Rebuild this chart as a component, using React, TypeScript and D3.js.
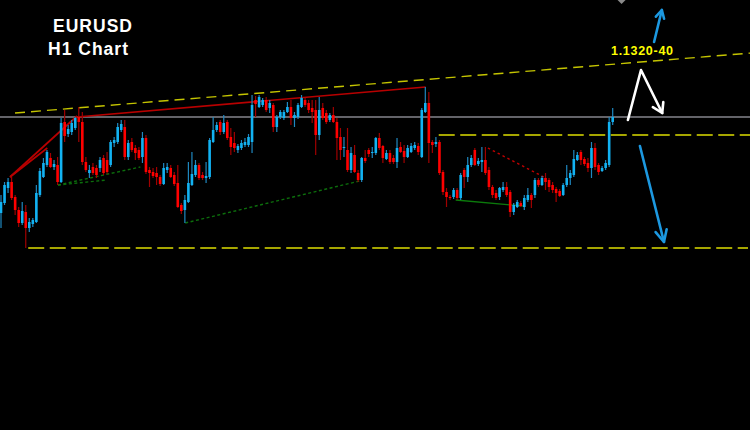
import React, { useEffect } from "react";
import * as d3 from "d3";

const W = 750;
const H = 430;

// Hourly EURUSD bars: [open, high, low, close]
const bars: [number, number, number, number][] = [
  [1.1187, 1.1205, 1.1172, 1.1198], [1.1197, 1.1218, 1.1195, 1.1215], [1.1212, 1.1222, 1.1207, 1.1218], [1.1218, 1.1223, 1.12, 1.1202],
  [1.1203, 1.1205, 1.1185, 1.119], [1.119, 1.1193, 1.1173, 1.1177], [1.1177, 1.1198, 1.1175, 1.1189], [1.1188, 1.1195, 1.1152, 1.1172],
  [1.1172, 1.1182, 1.1168, 1.1178], [1.1176, 1.1182, 1.1173, 1.118], [1.1178, 1.1215, 1.1177, 1.1207], [1.1205, 1.1232, 1.1203, 1.1229],
  [1.1223, 1.1242, 1.1222, 1.1237], [1.1235, 1.125, 1.1233, 1.1248], [1.1242, 1.1247, 1.1232, 1.1233], [1.1233, 1.124, 1.123, 1.1236],
  [1.1235, 1.1243, 1.1215, 1.1218], [1.1218, 1.1282, 1.1217, 1.1277], [1.1278, 1.129, 1.1258, 1.1264], [1.1266, 1.1275, 1.1263, 1.1271],
  [1.1268, 1.128, 1.1265, 1.1277], [1.1272, 1.1283, 1.127, 1.1282], [1.1283, 1.1293, 1.1258, 1.1278], [1.1278, 1.1288, 1.1235, 1.1238],
  [1.1238, 1.1243, 1.1228, 1.123], [1.1227, 1.1235, 1.1222, 1.123], [1.1233, 1.1237, 1.1225, 1.1227], [1.1232, 1.1235, 1.1222, 1.1225],
  [1.1232, 1.1243, 1.1228, 1.124], [1.1242, 1.1245, 1.1225, 1.1227], [1.124, 1.1248, 1.1226, 1.1228], [1.1235, 1.126, 1.1233, 1.1258],
  [1.1257, 1.1263, 1.1253, 1.126], [1.1258, 1.1277, 1.1256, 1.1273], [1.127, 1.128, 1.1268, 1.1276], [1.1273, 1.128, 1.124, 1.1243],
  [1.1243, 1.126, 1.124, 1.1257], [1.1258, 1.1262, 1.1248, 1.125], [1.1252, 1.1255, 1.124, 1.1247], [1.125, 1.1253, 1.124, 1.1242],
  [1.1243, 1.1268, 1.1237, 1.1262], [1.1262, 1.1265, 1.1226, 1.1228], [1.123, 1.1233, 1.1213, 1.1227], [1.1228, 1.1232, 1.1222, 1.1224],
  [1.1227, 1.1233, 1.1215, 1.1223], [1.1223, 1.1225, 1.1214, 1.1216], [1.1216, 1.1237, 1.1215, 1.1232], [1.123, 1.1237, 1.1227, 1.1233],
  [1.1232, 1.1235, 1.1222, 1.1223], [1.1225, 1.1228, 1.1214, 1.1216], [1.1217, 1.1235, 1.1192, 1.1193], [1.1195, 1.1197, 1.1186, 1.1189],
  [1.119, 1.1205, 1.1177, 1.12], [1.1198, 1.1238, 1.1197, 1.1217], [1.1215, 1.1248, 1.1214, 1.1226], [1.1225, 1.124, 1.1223, 1.1235],
  [1.1235, 1.1237, 1.122, 1.1222], [1.1225, 1.1228, 1.122, 1.1222], [1.1222, 1.1238, 1.1217, 1.1224], [1.1223, 1.1262, 1.1221, 1.126],
  [1.1258, 1.1283, 1.1257, 1.127], [1.127, 1.1278, 1.1268, 1.1275], [1.1278, 1.128, 1.1265, 1.1268], [1.1268, 1.1285, 1.1266, 1.1277],
  [1.1278, 1.128, 1.126, 1.1262], [1.1263, 1.1272, 1.1245, 1.1253], [1.1257, 1.1268, 1.1248, 1.1252], [1.125, 1.1256, 1.1247, 1.1254],
  [1.1252, 1.126, 1.125, 1.1257], [1.1255, 1.1262, 1.1253, 1.1258], [1.1255, 1.1266, 1.1253, 1.1263], [1.1258, 1.1305, 1.1247, 1.1295],
  [1.13, 1.1304, 1.1283, 1.1296], [1.1293, 1.1305, 1.1292, 1.1303], [1.1295, 1.1302, 1.1293, 1.13], [1.13, 1.1303, 1.1288, 1.129],
  [1.1292, 1.13, 1.1287, 1.1297], [1.1295, 1.1297, 1.1268, 1.1273], [1.1273, 1.1285, 1.1268, 1.1283], [1.1283, 1.129, 1.1281, 1.1288],
  [1.1282, 1.129, 1.128, 1.1288], [1.1288, 1.1298, 1.1287, 1.1293], [1.1293, 1.13, 1.1275, 1.1282], [1.1282, 1.1288, 1.1273, 1.1285],
  [1.1283, 1.1297, 1.1281, 1.1295], [1.1293, 1.1305, 1.1292, 1.1302], [1.13, 1.1302, 1.1293, 1.1295], [1.1297, 1.13, 1.1287, 1.129],
  [1.1292, 1.13, 1.1277, 1.1288], [1.129, 1.13, 1.1245, 1.1265], [1.1265, 1.1303, 1.126, 1.129], [1.1292, 1.1297, 1.128, 1.1282],
  [1.1287, 1.129, 1.1276, 1.1278], [1.128, 1.1287, 1.1278, 1.1285], [1.1285, 1.1293, 1.1277, 1.1278], [1.1278, 1.1282, 1.124, 1.1262],
  [1.1263, 1.1272, 1.124, 1.125], [1.1252, 1.1263, 1.1243, 1.1253], [1.125, 1.1272, 1.1228, 1.123], [1.123, 1.1253, 1.1227, 1.1247],
  [1.1245, 1.1255, 1.1227, 1.1228], [1.1227, 1.123, 1.1218, 1.122], [1.122, 1.1243, 1.1218, 1.1242], [1.1242, 1.125, 1.1237, 1.1239],
  [1.125, 1.1252, 1.1243, 1.1246], [1.1247, 1.1253, 1.1242, 1.1248], [1.1247, 1.1263, 1.1245, 1.1262], [1.1262, 1.1267, 1.125, 1.1252],
  [1.1254, 1.1255, 1.1237, 1.1242], [1.1241, 1.125, 1.124, 1.1247], [1.1247, 1.125, 1.1236, 1.1238], [1.1242, 1.1245, 1.1236, 1.1238],
  [1.1238, 1.1262, 1.1232, 1.1252], [1.1253, 1.1258, 1.1247, 1.1248], [1.1249, 1.1255, 1.1237, 1.1243], [1.1243, 1.1255, 1.1242, 1.1252],
  [1.1248, 1.1257, 1.1247, 1.1254], [1.1252, 1.1258, 1.125, 1.1255], [1.1254, 1.1257, 1.1245, 1.1248], [1.1243, 1.1292, 1.1242, 1.129],
  [1.1288, 1.1313, 1.1287, 1.1297], [1.1297, 1.1308, 1.1237, 1.1257], [1.1258, 1.126, 1.1247, 1.1255], [1.1256, 1.1263, 1.1253, 1.1258],
  [1.1258, 1.126, 1.1225, 1.1227], [1.1228, 1.123, 1.1205, 1.1208], [1.1208, 1.1212, 1.1193, 1.1203], [1.1203, 1.1205, 1.12, 1.1202],
  [1.1203, 1.1212, 1.1201, 1.121], [1.121, 1.1212, 1.12, 1.1202], [1.1202, 1.1227, 1.12, 1.1225], [1.123, 1.1232, 1.1212, 1.1223],
  [1.1223, 1.1243, 1.1218, 1.1235], [1.1235, 1.1245, 1.1233, 1.1242], [1.125, 1.1252, 1.1234, 1.1235], [1.1236, 1.1242, 1.1234, 1.1239],
  [1.1238, 1.1253, 1.1228, 1.124], [1.124, 1.1253, 1.1225, 1.1227], [1.123, 1.1233, 1.121, 1.1213], [1.1213, 1.1215, 1.1202, 1.1205],
  [1.1207, 1.121, 1.12, 1.1202], [1.1203, 1.1213, 1.12, 1.1212], [1.121, 1.1218, 1.1208, 1.1213], [1.1213, 1.1218, 1.1203, 1.1205],
  [1.1208, 1.121, 1.1183, 1.1188], [1.1188, 1.1197, 1.1185, 1.1195], [1.1193, 1.12, 1.1192, 1.1198], [1.1197, 1.1199, 1.1193, 1.1194],
  [1.1193, 1.1205, 1.119, 1.1202], [1.12, 1.1212, 1.1198, 1.1205], [1.1205, 1.1207, 1.1192, 1.12], [1.1205, 1.1222, 1.1202, 1.122],
  [1.122, 1.1222, 1.1213, 1.1215], [1.1215, 1.1224, 1.1214, 1.1222], [1.1222, 1.1227, 1.121, 1.1218], [1.122, 1.1222, 1.1208, 1.1213],
  [1.1215, 1.1218, 1.1207, 1.121], [1.1211, 1.1213, 1.1198, 1.1207], [1.1209, 1.1211, 1.1203, 1.1204], [1.1205, 1.1217, 1.1204, 1.1215],
  [1.1215, 1.1235, 1.1213, 1.1222], [1.1222, 1.123, 1.1215, 1.1227], [1.1225, 1.125, 1.1223, 1.1241], [1.124, 1.1248, 1.1239, 1.1245],
  [1.1248, 1.125, 1.1235, 1.124], [1.1241, 1.1243, 1.1234, 1.1236], [1.1237, 1.1242, 1.1228, 1.1232], [1.1232, 1.1258, 1.1222, 1.1252],
  [1.1252, 1.1257, 1.123, 1.1233], [1.1235, 1.1237, 1.1225, 1.1228], [1.1229, 1.1234, 1.1228, 1.1232], [1.1232, 1.124, 1.123, 1.1237],
  [1.1235, 1.1283, 1.1233, 1.1278], [1.1278, 1.1292, 1.1275, 1.1283],
];

const symbol = "EURUSD";
const timeframe = "H1 Chart";
const targetLabel = "1.1320-40";

// Horizontal levels
const bidPrice = 1.1283;
const resistance = { from: 123.8, price: 1.1265 };
const support = { from: 7.7, price: 1.1152 };

// Sloped lines, endpoints as [bar index, price]
type Pt = [number, number];
const upperChannel: Pt[] = [[3.97, 1.1287], [212.2, 1.1347]];
const redTrend: Pt[][] = [
  [[2.55, 1.1223], [13.1, 1.1252]],
  [[2.55, 1.1223], [21.5, 1.1284]],
  [[21.5, 1.1283], [120.1, 1.1313]],
];
const greenDotted: Pt[][] = [
  [[16.1, 1.1215], [30.0, 1.122]],
  [[16.1, 1.1215], [39.4, 1.1233]],
  [[52.1, 1.1177], [101.4, 1.1219]],
];
const greenSolid: Pt[] = [[128.6, 1.12], [147.6, 1.1194]];
const redDotted: Pt[] = [[137.7, 1.1252], [153.5, 1.1223]];

// Projected paths
const arrowUp: Pt[] = [[184.7, 1.1358], [186.9, 1.139]];
const arrowBounce: Pt[] = [[177.3, 1.128], [181.0, 1.133], [187.0, 1.1287]];
const arrowDown: Pt[] = [[180.7, 1.1254], [187.5, 1.1158]];
const marker: Pt = [175.5, 1.1401];

const BULL = "#12b2f2";
const BULL_WICK = "#1f88c0";
const BEAR = "#ff0000";
const BEAR_WICK = "#a00000";

export default function App() {
  useEffect(() => {
    document.body.style.margin = "0";
    document.body.style.background = "#000";
  }, []);

  const x = d3.scaleLinear().domain([0, bars.length - 1]).range([1, 612.7]);
  const y = d3.scaleLinear().domain([1.097, 1.14]).range([H, 0]);
  const line = d3
    .line<Pt>()
    .x((d) => x(d[0]))
    .y((d) => y(d[1]));

  const bw = 2.6;

  const arrowHead = (pts: Pt[], len: number, ang: number) => {
    const a = pts[pts.length - 2];
    const b = pts[pts.length - 1];
    const x0 = x(a[0]), y0 = y(a[1]), x1 = x(b[0]), y1 = y(b[1]);
    const th = Math.atan2(y0 - y1, x0 - x1);
    const r = (ang * Math.PI) / 180;
    const p1 = [x1 + len * Math.cos(th + r), y1 + len * Math.sin(th + r)];
    const p2 = [x1 + len * Math.cos(th - r), y1 + len * Math.sin(th - r)];
    return `M${p1[0]},${p1[1]}L${x1},${y1}L${p2[0]},${p2[1]}`;
  };

  const mx = x(marker[0]);
  const my = y(marker[1]);

  return (
    <svg width={W} height={H} style={{ display: "block" }} fontFamily="'Liberation Sans', Arial, sans-serif">
      <rect width={W} height={H} fill="#000" />

      {/* bid line */}
      <line x1={0} x2={W} y1={y(bidPrice)} y2={y(bidPrice)} stroke="#84848c" strokeWidth={1.3} />

      {/* horizontal levels */}
      <line x1={x(resistance.from)} x2={W} y1={y(resistance.price)} y2={y(resistance.price)}
        stroke="#a6a600" strokeWidth={2} strokeDasharray="16,5.5" />
      <line x1={x(support.from)} x2={W - 2} y1={y(support.price)} y2={y(support.price)}
        stroke="#a6a600" strokeWidth={2} strokeDasharray="16,5.5" />

      {/* upper channel */}
      <path d={line(upperChannel) || ""} stroke="#c4c400" strokeWidth={1.4} strokeDasharray="10,6" fill="none" />

      {/* trend lines */}
      {redTrend.map((seg, i) => (
        <path key={`r${i}`} d={line(seg) || ""} stroke="#b80000" strokeWidth={1.7} fill="none" />
      ))}
      {greenDotted.map((seg, i) => (
        <path key={`g${i}`} d={line(seg) || ""} stroke="#0c6e0c" strokeWidth={1.4} strokeDasharray="3,2.5" fill="none" />
      ))}
      <path d={line(greenSolid) || ""} stroke="#0b7a0b" strokeWidth={1.4} fill="none" />
      <path d={line(redDotted) || ""} stroke="#c00000" strokeWidth={1.4} strokeDasharray="2.5,3" fill="none" />

      {/* candles */}
      {bars.map(([o, h, l, c], i) => {
        const cx = x(i);
        const up = c >= o;
        const top = y(Math.max(o, c));
        const bot = y(Math.min(o, c));
        return (
          <g key={i}>
            <line x1={cx} x2={cx} y1={y(h)} y2={y(l)} stroke={up ? BULL_WICK : BEAR_WICK} strokeWidth={1.2} />
            <rect x={cx - bw / 2} y={top} width={bw} height={Math.max(1, bot - top)} fill={up ? BULL : BEAR} />
          </g>
        );
      })}

      {/* projections */}
      <g fill="none" strokeLinecap="round" strokeLinejoin="round">
        <path d={line(arrowUp) || ""} stroke="#1c98e0" strokeWidth={2.6} />
        <path d={arrowHead(arrowUp, 9, 28)} stroke="#1c98e0" strokeWidth={2.6} />
        <path d={line(arrowBounce) || ""} stroke="#ffffff" strokeWidth={2.6} />
        <path d={arrowHead(arrowBounce, 11, 32)} stroke="#ffffff" strokeWidth={2.6} />
        <path d={line(arrowDown) || ""} stroke="#1c98e0" strokeWidth={2.6} />
        <path d={arrowHead(arrowDown, 13, 26)} stroke="#1c98e0" strokeWidth={2.6} />
      </g>
      <path d={`M${mx - 5},${my}L${mx},${my + 5}L${mx + 5},${my}L${mx},${my - 5}Z`} fill="#8a8a8a" />

      {/* titles */}
      <text x={53} y={32} fill="#fff" fontSize={17.5} fontWeight="bold" textLength={79} lengthAdjust="spacing">
        {symbol}
      </text>
      <text x={48} y={55} fill="#fff" fontSize={17.5} fontWeight="bold" textLength={80} lengthAdjust="spacing">
        {timeframe}
      </text>
      <text x={611} y={55} fill="#ffff00" fontSize={12.5} fontWeight="bold" textLength={62} lengthAdjust="spacing">
        {targetLabel}
      </text>
    </svg>
  );
}
